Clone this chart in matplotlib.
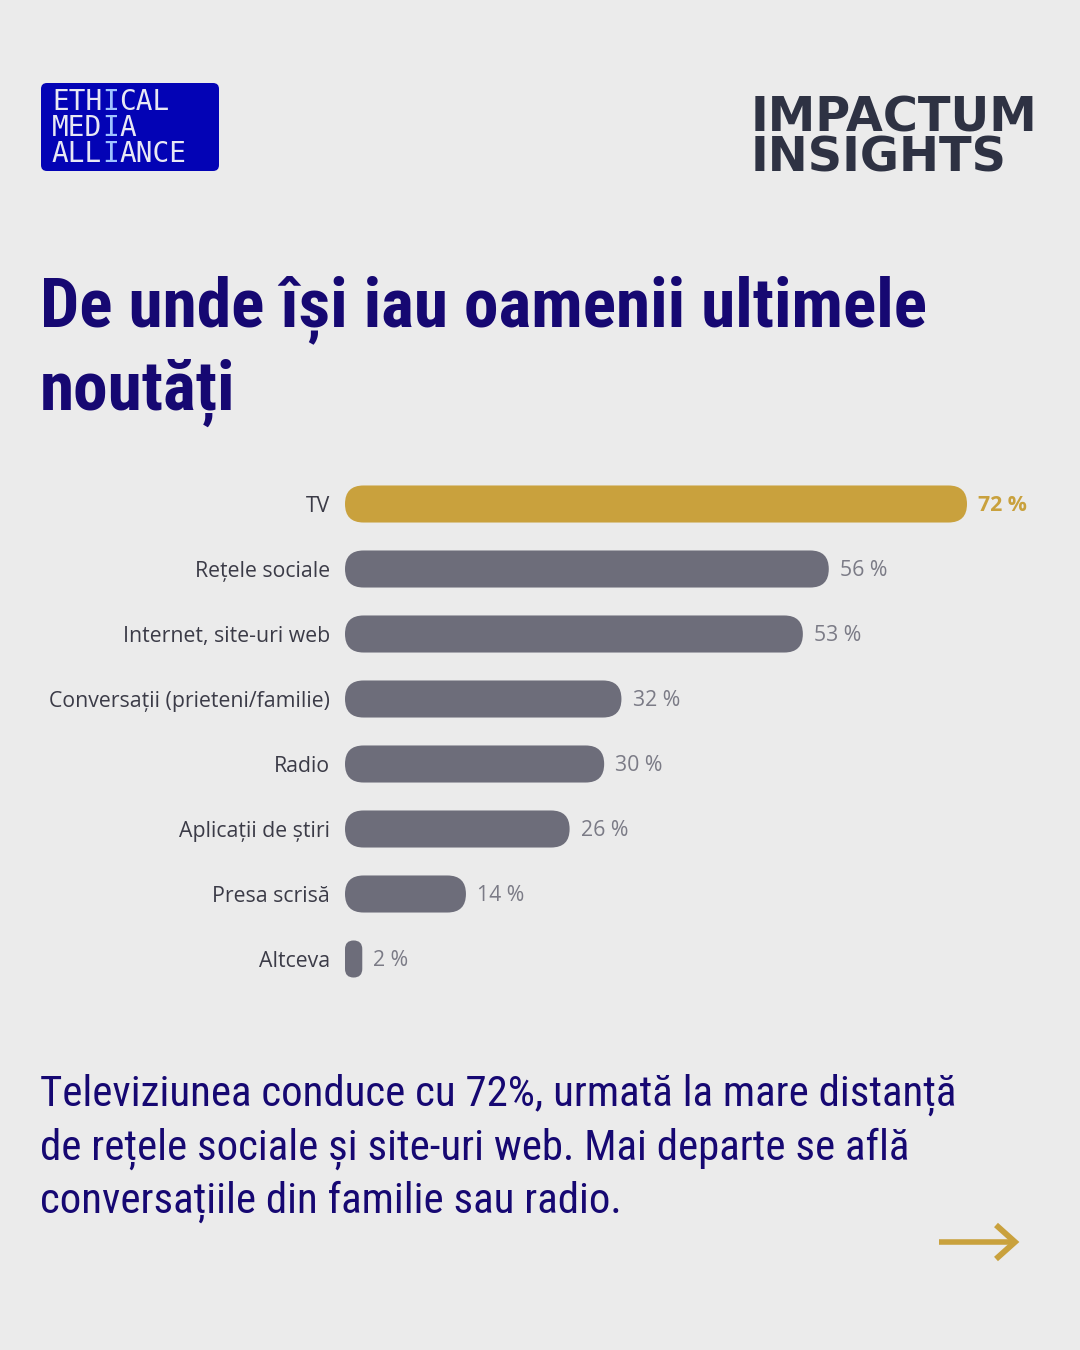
import matplotlib
matplotlib.use('Agg')
import matplotlib.pyplot as plt
from matplotlib import font_manager as fm
from matplotlib.patches import FancyBboxPatch

# data
categories = ['TV', 'Rețele sociale', 'Internet, site-uri web',
              'Conversații (prieteni/familie)', 'Radio', 'Aplicații de știri',
              'Presa scrisă', 'Altceva']
values = [72, 56, 53, 32, 30, 26, 14, 2]
highlight = 'TV'

title_lines = ['De unde își iau oamenii ultimele', 'noutăți']
body_lines = ['Televiziunea conduce cu 72%, urmată la mare distanță',
              'de rețele sociale și site-uri web. Mai departe se află',
              'conversațiile din familie sau radio.']
logo_left = ['ETHICAL', 'MEDIA', 'ALLIANCE']
logo_right = ['IMPACTUM', 'INSIGHTS']

BG = '#ebebeb'
NAVY = '#160872'
GOLD = '#c9a13d'
BARGRAY = '#6d6d7a'

W, H = 1080, 1350


def find_face(cands, weight):
    # first condensed face that is really installed
    for fam, stretch in cands:
        fp = fm.FontProperties(family=fam, weight=weight, stretch=stretch)
        try:
            path = fm.findfont(fp, fallback_to_default=False).lower()
        except ValueError:
            continue
        if 'condensed' in path or 'narrow' in path:
            return fp
    return fm.FontProperties(family='DejaVu Sans', weight=weight)


condensed = [('Roboto Condensed', 'condensed'), ('Noto Sans Condensed', 'condensed'),
             ('Noto Sans', 'condensed'), ('DejaVu Sans', 'condensed'),
             ('Liberation Sans Narrow', 'condensed'), ('Open Sans Condensed', 'condensed'),
             ('Open Sans', 'condensed')]
title_fp = find_face(condensed, 'bold')
body_fp = find_face(condensed, 'normal')

fig = plt.figure(figsize=(W / 100, H / 100), dpi=100)
fig.patch.set_facecolor(BG)
renderer = fig.canvas.get_renderer()


def fit(t, target_px):
    w = t.get_window_extent(renderer).width
    t.set_fontsize(t.get_fontsize() * target_px / w)
    return t.get_fontsize()


# decoration layer in pixel units
deco = fig.add_axes([0, 0, 1, 1])
deco.set_xlim(0, W)
deco.set_ylim(H, 0)
deco.axis('off')

# left logo, the I's in light blue
deco.add_patch(FancyBboxPatch((41, 83), 178, 88, boxstyle='round,pad=0,rounding_size=6',
                              fc='#0303b5', ec='none'))
mono = dict(family='DejaVu Sans Mono', fontsize=20, va='baseline', ha='left')
probe = [deco.text(0, 0, 'M' * n, **mono) for n in (9, 10)]
adv_pt = (probe[1].get_window_extent(renderer).width
          - probe[0].get_window_extent(renderer).width) * 72 / fig.dpi
for p in probe:
    p.remove()
for line, yb in zip(logo_left, [110.5, 136, 161.5]):
    # split into runs of I / not-I
    runs, start = [], 0
    for k in range(1, len(line) + 1):
        if k == len(line) or (line[k] == 'I') != (line[start] == 'I'):
            runs.append((start, line[start:k]))
            start = k
    for k, chunk in runs:
        deco.annotate(chunk, xy=(52, yb), xytext=(k * adv_pt, 0), textcoords='offset points',
                      color='#9fc2ff' if chunk[0] == 'I' else '#e8e8f4', **mono)

# right logo, one text with two lines
rfp = fm.FontProperties(family='DejaVu Sans', weight='bold', size=30)
t1 = deco.text(751, 131, logo_right[0], fontproperties=rfp, va='baseline')
s = fit(t1, 287)
t1.remove()
rfp.set_size(s)
_, lh, ld = renderer.get_text_width_height_descent('lp', rfp, ismath=False)
deco.text(751, 172, '\n'.join(logo_right), fontproperties=rfp, color='#2e3243',
          va='baseline', ha='left', linespacing=(41 - ld) / (lh - ld))

# title
fp = title_fp.copy()
fp.set_size(50)
tt = deco.text(40, 326, title_lines[0], fontproperties=fp, color=NAVY, va='baseline')
s = fit(tt, 887)
fp.set_size(s)
deco.text(40, 410, title_lines[1], fontproperties=fp, color=NAVY, va='baseline')

# body
fp = body_fp.copy()
fp.set_size(25)
bt = deco.text(40, 1106, body_lines[0], fontproperties=fp, color=NAVY, va='baseline')
s = fit(bt, 917)
fp.set_size(s)
for line, yb in zip(body_lines[1:], [1160, 1213]):
    deco.text(40, yb, line, fontproperties=fp, color=NAVY, va='baseline')

# arrow
deco.plot([939, 1013], [1242, 1242], color=GOLD, lw=4, solid_capstyle='butt')
deco.plot([996, 1015, 996], [1225, 1242, 1259], color=GOLD, lw=4.2,
          solid_joinstyle='miter', solid_capstyle='butt')

# chart
xmax = 80
px_per_pct = 622 / 72
ax = fig.add_axes([345 / W, 1 - 991.5 / H, xmax * px_per_pct / W, 520 / H])
ax.set_xlim(0, xmax)
ax.set_ylim(len(categories) - 0.5, -0.5)
ax.set_facecolor('none')
for sp in ax.spines.values():
    sp.set_visible(False)
ax.set_xticks([])

ypos = list(range(len(categories)))
label_font = 'Open Sans'
ax.set_yticks(ypos, categories)
ax.tick_params(axis='y', length=0, pad=10.8, labelsize=13.5, labelcolor='#3b3b47')
for lab in ax.get_yticklabels():
    lab.set_family(label_font)
longest = ax.get_yticklabels()[categories.index(max(categories, key=len))]
lsize = fit(longest, 280)
ax.tick_params(axis='y', labelsize=lsize)

bars = ax.barh(ypos, values, height=0.57)
x0d, y0d = ax.transData.transform((0, 0))
x1d, y1d = ax.transData.transform((1, 1))
xpu, ypu = abs(x1d - x0d), abs(y1d - y0d)
for bar, cat, v in zip(bars, categories, values):
    bar.set_visible(False)
    x, y, w, h = bar.get_x(), bar.get_y(), bar.get_width(), bar.get_height()
    r = min(w * xpu, h * ypu) / 2 / xpu
    col = GOLD if cat == highlight else BARGRAY
    ax.add_patch(FancyBboxPatch((x, y), w, h,
                                boxstyle=f'round,pad=0,rounding_size={r}',
                                mutation_aspect=xpu / ypu, fc=col, ec='none'))
    ax.annotate(f'{v} %', xy=(v, y + h / 2), xytext=(8, -1.2), textcoords='offset points',
                va='center', ha='left', family=label_font, fontsize=lsize,
                color=GOLD if cat == highlight else '#7b7b86',
                weight='bold' if cat == highlight else 'normal')

fig.savefig('out.png', dpi=100, facecolor=BG)
